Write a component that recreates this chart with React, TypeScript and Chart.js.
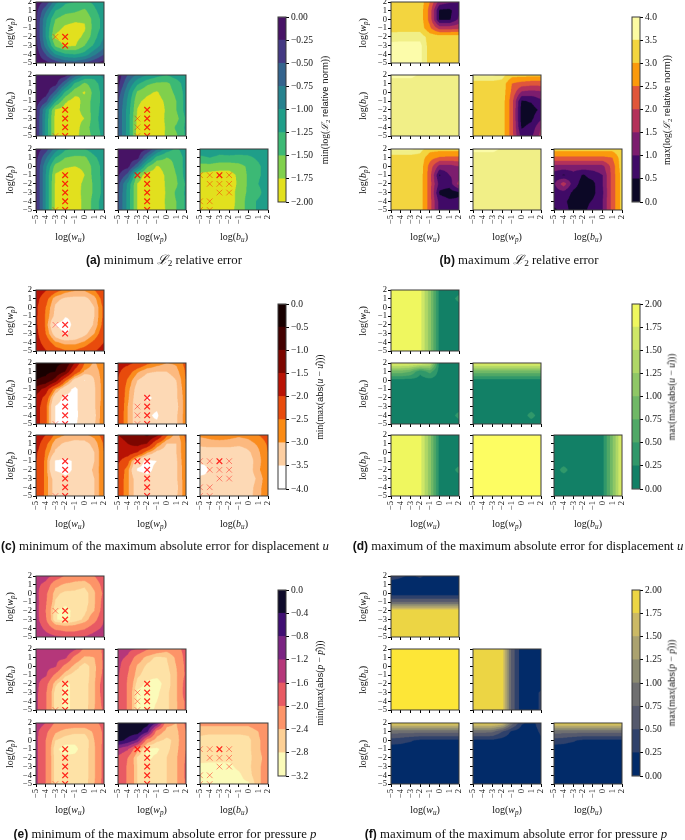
import React, { useEffect, useRef } from "react";
import { Chart, registerables } from "chart.js";
Chart.register(...registerables);

const LOG_TICKS = [-5, -4, -3, -2, -1, 0, 1, 2];
const ROW_VALUES = [2, 1, 0, -1, -2, -3, -4, -5];

// ---------- figure (a)
const A_WP_WU = [
  [-0.1, -0.3, -0.9, -1.2, -1.25, -1.3, -1.2, -1.0],
  [-0.15, -0.7, -1.25, -1.4, -1.45, -1.55, -1.3, -1.1],
  [-0.2, -0.95, -1.5, -1.65, -1.7, -1.72, -1.4, -1.15],
  [-0.2, -1.0, -1.65, -1.8, -1.85, -1.78, -1.4, -1.15],
  [-0.2, -1.0, -1.8, -1.9, -1.85, -1.7, -1.35, -1.0],
  [-0.15, -0.85, -1.55, -1.8, -1.78, -1.5, -1.2, -0.85],
  [-0.1, -0.5, -1.0, -1.2, -1.25, -1.15, -0.8, -0.5],
  [-0.1, -0.15, -0.3, -0.55, -0.6, -0.45, -0.3, -0.1],
];
const A_BU_WU = [
  [-0.1, -0.1, -0.1, -0.12, -0.6, -1.0, -1.15, -0.9],
  [-0.1, -0.1, -0.15, -0.7, -1.3, -1.55, -1.35, -1.1],
  [-0.1, -0.12, -0.6, -1.3, -1.65, -1.78, -1.4, -1.15],
  [-0.12, -0.4, -1.2, -1.7, -1.88, -1.65, -1.4, -1.15],
  [-0.2, -1.0, -1.78, -1.88, -1.85, -1.65, -1.4, -1.1],
  [-0.2, -1.05, -1.85, -1.95, -1.85, -1.75, -1.35, -1.1],
  [-0.2, -1.05, -1.85, -1.95, -1.9, -1.6, -1.4, -1.1],
  [-0.2, -1.05, -1.85, -1.95, -1.85, -1.6, -1.45, -1.15],
];
const A_BU_WP = [
  [-0.1, -0.5, -0.8, -1.0, -1.15, -1.25, -1.1, -1.0],
  [-0.15, -0.75, -1.2, -1.45, -1.55, -1.55, -1.4, -1.1],
  [-0.35, -0.95, -1.55, -1.7, -1.78, -1.6, -1.45, -1.15],
  [-0.45, -1.05, -1.7, -1.82, -1.85, -1.7, -1.5, -1.15],
  [-0.5, -1.1, -1.76, -1.9, -1.95, -1.7, -1.5, -1.15],
  [-0.5, -1.1, -1.82, -1.9, -1.9, -1.7, -1.6, -1.2],
  [-0.5, -1.1, -1.85, -1.95, -1.9, -1.72, -1.45, -1.2],
  [-0.5, -1.1, -1.85, -1.95, -1.95, -1.7, -1.55, -1.2],
];
const A_BP_WU = [
  [-0.1, -0.35, -0.85, -1.2, -1.3, -1.25, -1.1, -1.0],
  [-0.15, -0.7, -1.25, -1.5, -1.55, -1.55, -1.3, -1.1],
  [-0.2, -0.95, -1.6, -1.72, -1.75, -1.7, -1.4, -1.15],
  [-0.2, -1.0, -1.78, -1.88, -1.9, -1.75, -1.4, -1.15],
  [-0.2, -1.0, -1.8, -1.9, -1.85, -1.7, -1.45, -1.15],
  [-0.2, -1.0, -1.8, -1.9, -1.82, -1.7, -1.45, -1.15],
  [-0.2, -1.0, -1.8, -1.9, -1.85, -1.7, -1.4, -1.1],
  [-0.2, -1.0, -1.8, -1.9, -1.85, -1.7, -1.4, -1.1],
];
const A_BP_WP = [
  [-0.1, -0.1, -0.1, -0.2, -0.7, -1.1, -1.3, -1.1],
  [-0.1, -0.1, -0.15, -0.8, -1.35, -1.5, -1.45, -1.15],
  [-0.1, -0.15, -0.7, -1.45, -1.78, -1.65, -1.45, -1.15],
  [-0.2, -0.6, -1.6, -1.88, -1.9, -1.7, -1.5, -1.15],
  [-0.4, -1.05, -1.76, -1.88, -1.95, -1.7, -1.55, -1.2],
  [-0.45, -1.1, -1.76, -1.88, -1.95, -1.72, -1.45, -1.2],
  [-0.45, -1.1, -1.76, -1.88, -1.95, -1.7, -1.5, -1.2],
  [-0.45, -1.1, -1.76, -1.88, -1.95, -1.72, -1.5, -1.2],
];
const A_BP_BU = [
  [-1.1, -1.05, -1.15, -1.1, -1.15, -1.1, -1.05, -1.0],
  [-1.3, -1.25, -1.3, -1.3, -1.3, -1.3, -1.2, -1.05],
  [-1.6, -1.6, -1.65, -1.65, -1.6, -1.45, -1.3, -1.1],
  [-1.8, -1.85, -1.85, -1.85, -1.7, -1.45, -1.3, -1.1],
  [-1.85, -1.9, -1.95, -1.9, -1.7, -1.45, -1.25, -1.05],
  [-1.85, -1.9, -1.9, -1.9, -1.65, -1.45, -1.35, -1.05],
  [-1.9, -1.95, -1.9, -1.9, -1.65, -1.4, -1.2, -1.05],
  [-1.9, -1.95, -1.9, -1.85, -1.65, -1.4, -1.2, -1.05],
];

// ---------- figure (b)
const B_WP_WU = [
  [3.3, 3.3, 3.3, 3.3, 2.5, 1.3, 1.1, 1.0],
  [3.3, 3.3, 3.3, 3.3, 2.3, 0.4, 0.35, 0.9],
  [3.3, 3.3, 3.3, 3.3, 2.3, 0.4, 0.4, 1.1],
  [3.3, 3.3, 3.3, 3.3, 2.6, 1.8, 1.8, 1.9],
  [3.7, 3.75, 3.75, 3.75, 3.3, 3.3, 3.3, 3.3],
  [3.95, 3.95, 3.95, 3.95, 3.3, 3.3, 3.3, 3.3],
  [3.95, 3.95, 3.95, 3.95, 3.3, 3.3, 3.3, 3.3],
  [3.95, 3.95, 3.95, 3.95, 3.3, 3.3, 3.3, 3.3],
];
const B_BU_WU = [
  [3.95, 3.95, 3.95, 3.8, 3.7, 3.7, 3.7, 3.7],
  [3.7, 3.7, 3.7, 3.7, 3.7, 3.7, 3.7, 3.7],
  [3.7, 3.7, 3.7, 3.7, 3.7, 3.7, 3.7, 3.7],
  [3.7, 3.7, 3.7, 3.7, 3.7, 3.7, 3.7, 3.7],
  [3.7, 3.7, 3.7, 3.7, 3.7, 3.7, 3.7, 3.7],
  [3.7, 3.7, 3.7, 3.7, 3.7, 3.7, 3.7, 3.7],
  [3.7, 3.7, 3.7, 3.7, 3.7, 3.7, 3.7, 3.7],
  [3.7, 3.7, 3.7, 3.7, 3.7, 3.7, 3.7, 3.7],
];
const B_BU_WP = [
  [3.95, 3.95, 3.95, 3.7, 3.2, 3.2, 3.2, 3.2],
  [3.3, 3.3, 3.3, 3.3, 2.5, 2.3, 2.2, 2.2],
  [3.3, 3.3, 3.3, 3.3, 2.4, 1.4, 1.3, 1.4],
  [3.3, 3.3, 3.3, 3.3, 2.2, 0.45, 0.55, 0.9],
  [3.3, 3.3, 3.3, 3.3, 2.2, 0.3, 0.3, 0.6],
  [3.3, 3.3, 3.3, 3.3, 2.2, 0.3, 0.4, 0.9],
  [3.3, 3.3, 3.3, 3.3, 2.2, 0.45, 0.65, 1.5],
  [3.3, 3.3, 3.3, 3.3, 2.2, 0.8, 0.9, 1.7],
];
const B_BP_WU = [
  [3.95, 3.95, 3.95, 3.7, 3.2, 3.2, 3.2, 3.2],
  [3.3, 3.3, 3.3, 3.3, 2.7, 2.45, 2.4, 2.4],
  [3.3, 3.3, 3.3, 3.3, 2.3, 1.3, 1.3, 1.5],
  [3.3, 3.3, 3.3, 3.3, 2.2, 0.45, 1.0, 1.2],
  [3.3, 3.3, 3.3, 3.3, 2.2, 0.8, 0.7, 1.7],
  [3.3, 3.3, 3.3, 3.3, 2.2, 0.4, 0.25, 0.4],
  [3.3, 3.3, 3.3, 3.3, 2.2, 0.8, 0.6, 0.6],
  [3.3, 3.3, 3.3, 3.3, 2.2, 0.8, 0.6, 0.6],
];
const B_BP_WP = [
  [3.95, 3.95, 3.95, 3.8, 3.7, 3.7, 3.7, 3.7],
  [3.7, 3.7, 3.7, 3.7, 3.7, 3.7, 3.7, 3.7],
  [3.7, 3.7, 3.7, 3.7, 3.7, 3.7, 3.7, 3.7],
  [3.7, 3.7, 3.7, 3.7, 3.7, 3.7, 3.7, 3.7],
  [3.7, 3.7, 3.7, 3.7, 3.7, 3.7, 3.7, 3.7],
  [3.7, 3.7, 3.7, 3.7, 3.7, 3.7, 3.7, 3.7],
  [3.7, 3.7, 3.7, 3.7, 3.7, 3.7, 3.7, 3.7],
  [3.7, 3.7, 3.7, 3.7, 3.7, 3.7, 3.7, 3.7],
];
const B_BP_BU = [
  [3.2, 3.2, 3.2, 3.2, 3.2, 3.2, 3.2, 3.4],
  [2.4, 2.4, 2.4, 2.4, 2.4, 2.4, 2.5, 3.3],
  [1.3, 1.3, 1.3, 1.3, 1.3, 1.35, 2.2, 3.3],
  [0.8, 0.45, 0.8, 0.45, 0.7, 1.0, 2.2, 3.2],
  [0.9, 1.8, 0.7, 0.3, 0.35, 1.0, 2.2, 3.2],
  [0.8, 0.8, 0.4, 0.3, 0.35, 0.9, 2.2, 3.2],
  [0.7, 0.6, 0.3, 0.3, 0.55, 1.0, 2.2, 3.2],
  [0.4, 0.7, 0.3, 0.3, 0.8, 1.0, 2.2, 3.2],
];

// ---------- figure (c)
const C_WP_WU = [
  [-1.6, -1.95, -2.3, -2.6, -2.7, -2.7, -2.5, -2.1],
  [-1.8, -2.35, -2.9, -3.05, -3.1, -3.1, -2.85, -2.3],
  [-1.9, -2.5, -3.05, -3.3, -3.35, -3.3, -3.0, -2.4],
  [-1.9, -2.55, -3.1, -3.48, -3.45, -3.35, -3.0, -2.4],
  [-1.9, -2.55, -3.55, -3.65, -3.4, -3.3, -2.95, -2.35],
  [-1.85, -2.5, -3.2, -3.55, -3.35, -3.1, -2.75, -2.2],
  [-1.75, -2.25, -2.7, -2.85, -2.85, -2.7, -2.4, -2.0],
  [-1.6, -1.95, -2.3, -2.45, -2.45, -2.3, -2.05, -1.7],
];
const C_BU_WU = [
  [-0.3, -0.35, -0.4, -0.5, -1.5, -2.5, -2.8, -2.5],
  [-0.4, -0.4, -0.5, -1.0, -2.2, -2.8, -2.9, -2.6],
  [-0.5, -0.6, -1.2, -2.4, -3.2, -3.52, -3.0, -2.6],
  [-1.2, -1.7, -2.7, -3.3, -3.6, -3.25, -3.05, -2.6],
  [-1.6, -2.2, -3.3, -3.6, -3.6, -3.25, -3.05, -2.6],
  [-1.7, -2.4, -3.52, -3.65, -3.6, -3.25, -3.05, -2.55],
  [-1.7, -2.4, -3.52, -3.65, -3.6, -3.3, -3.1, -2.5],
  [-1.7, -2.4, -3.52, -3.65, -3.55, -3.3, -3.05, -2.5],
];
const C_BU_WP = [
  [-1.8, -1.85, -2.1, -2.4, -2.6, -2.75, -2.7, -2.4],
  [-1.9, -2.3, -2.7, -2.95, -3.0, -3.0, -2.85, -2.45],
  [-2.05, -2.55, -3.0, -3.2, -3.3, -3.2, -3.0, -2.5],
  [-2.1, -2.65, -3.15, -3.35, -3.4, -3.25, -3.05, -2.55],
  [-2.1, -2.7, -3.2, -3.55, -3.45, -3.3, -3.05, -2.6],
  [-2.1, -2.75, -3.25, -3.4, -3.45, -3.3, -3.1, -2.6],
  [-2.15, -2.75, -3.25, -3.45, -3.55, -3.25, -3.05, -2.6],
  [-2.15, -2.75, -3.25, -3.45, -3.45, -3.3, -3.05, -2.6],
];
const C_BP_WU = [
  [-1.5, -2.0, -2.6, -2.75, -2.85, -2.8, -2.65, -2.35],
  [-1.7, -2.4, -2.9, -3.05, -3.1, -3.1, -2.9, -2.45],
  [-1.9, -2.55, -3.05, -3.2, -3.3, -3.25, -3.0, -2.5],
  [-2.0, -2.6, -3.55, -3.6, -3.45, -3.3, -3.0, -2.5],
  [-2.0, -2.6, -3.55, -3.6, -3.45, -3.15, -2.95, -2.5],
  [-2.0, -2.6, -3.2, -3.45, -3.4, -3.2, -3.0, -2.5],
  [-2.0, -2.6, -3.2, -3.4, -3.4, -3.2, -3.0, -2.5],
  [-2.0, -2.6, -3.2, -3.4, -3.45, -3.2, -3.0, -2.5],
];
const C_BP_WP = [
  [-1.5, -1.4, -1.2, -0.9, -1.3, -2.4, -2.9, -2.4],
  [-1.6, -1.5, -1.3, -1.5, -2.5, -3.0, -3.0, -2.5],
  [-1.7, -1.7, -2.0, -2.7, -3.1, -3.2, -3.0, -2.5],
  [-1.9, -2.35, -3.3, -3.6, -3.5, -3.3, -3.05, -2.5],
  [-2.2, -2.65, -3.55, -3.6, -3.4, -3.3, -3.05, -2.55],
  [-2.2, -2.7, -3.2, -3.4, -3.45, -3.3, -3.05, -2.55],
  [-2.2, -2.7, -3.2, -3.4, -3.45, -3.3, -3.1, -2.55],
  [-2.2, -2.7, -3.2, -3.4, -3.45, -3.3, -3.05, -2.55],
];
const C_BP_BU = [
  [-2.7, -2.65, -2.6, -2.65, -2.7, -2.65, -2.5, -2.35],
  [-2.9, -2.85, -2.85, -2.85, -2.9, -2.85, -2.7, -2.45],
  [-3.2, -3.2, -3.2, -3.2, -3.25, -3.05, -2.8, -2.5],
  [-3.4, -3.45, -3.4, -3.45, -3.4, -3.15, -2.85, -2.5],
  [-3.7, -3.45, -3.45, -3.45, -3.4, -3.15, -2.8, -2.5],
  [-3.4, -3.45, -3.4, -3.4, -3.35, -3.15, -2.95, -2.5],
  [-3.4, -3.45, -3.4, -3.35, -3.3, -3.15, -2.85, -2.55],
  [-3.45, -3.45, -3.4, -3.35, -3.3, -3.1, -2.85, -2.5],
];

// ---------- figure (d)
const D_WP_WU = [
  [1.85, 1.85, 1.85, 1.85, 1.1, 0.15, 0.15, 0.15],
  [1.85, 1.85, 1.85, 1.85, 1.1, 0.15, 0.15, 0.32],
  [1.85, 1.85, 1.85, 1.85, 1.1, 0.15, 0.15, 0.15],
  [1.85, 1.85, 1.85, 1.85, 1.1, 0.15, 0.15, 0.15],
  [1.85, 1.85, 1.85, 1.85, 1.1, 0.15, 0.15, 0.15],
  [1.85, 1.85, 1.85, 1.85, 1.1, 0.15, 0.15, 0.15],
  [1.85, 1.85, 1.85, 1.85, 1.1, 0.15, 0.15, 0.15],
  [1.85, 1.85, 1.85, 1.85, 1.1, 0.15, 0.15, 0.15],
];
const D_BU_WU = [
  [1.85, 1.85, 1.85, 1.85, 1.6, 0.15, 0.15, 0.15],
  [0.9, 0.9, 0.75, 0.3, 0.6, 0.15, 0.15, 0.15],
  [0.15, 0.15, 0.15, 0.15, 0.15, 0.15, 0.15, 0.15],
  [0.15, 0.15, 0.15, 0.15, 0.15, 0.15, 0.15, 0.15],
  [0.15, 0.15, 0.15, 0.15, 0.15, 0.15, 0.15, 0.15],
  [0.15, 0.15, 0.15, 0.15, 0.15, 0.15, 0.15, 0.15],
  [0.15, 0.15, 0.15, 0.15, 0.15, 0.15, 0.15, 0.32],
  [0.15, 0.15, 0.15, 0.15, 0.15, 0.15, 0.15, 0.15],
];
const D_BU_WP = [
  [1.85, 1.85, 1.85, 1.85, 1.85, 1.85, 1.85, 1.85],
  [0.9, 0.9, 0.9, 0.9, 0.9, 0.9, 0.9, 0.9],
  [0.15, 0.15, 0.15, 0.15, 0.15, 0.15, 0.15, 0.15],
  [0.15, 0.15, 0.15, 0.15, 0.15, 0.15, 0.15, 0.15],
  [0.15, 0.15, 0.15, 0.15, 0.15, 0.15, 0.15, 0.15],
  [0.15, 0.15, 0.15, 0.15, 0.15, 0.15, 0.15, 0.15],
  [0.15, 0.15, 0.15, 0.15, 0.15, 0.15, 0.32, 0.15],
  [0.15, 0.15, 0.15, 0.15, 0.15, 0.15, 0.15, 0.15],
];
const D_BP_WU = [
  [1.85, 1.85, 1.85, 1.85, 1.1, 0.15, 0.15, 0.15],
  [1.85, 1.85, 1.85, 1.85, 1.1, 0.15, 0.15, 0.15],
  [1.85, 1.85, 1.85, 1.85, 1.1, 0.15, 0.15, 0.15],
  [1.85, 1.85, 1.85, 1.85, 1.1, 0.15, 0.15, 0.15],
  [1.85, 1.85, 1.85, 1.85, 1.1, 0.15, 0.15, 0.32],
  [1.85, 1.85, 1.85, 1.85, 1.1, 0.15, 0.15, 0.15],
  [1.85, 1.85, 1.85, 1.85, 1.1, 0.15, 0.15, 0.15],
  [1.85, 1.85, 1.85, 1.85, 1.1, 0.15, 0.15, 0.15],
];
const D_BP_WP = [
  [1.97, 1.97, 1.97, 1.97, 1.97, 1.97, 1.97, 1.97],
  [1.97, 1.97, 1.97, 1.97, 1.97, 1.97, 1.97, 1.97],
  [1.97, 1.97, 1.97, 1.97, 1.97, 1.97, 1.97, 1.97],
  [1.97, 1.97, 1.97, 1.97, 1.97, 1.97, 1.97, 1.97],
  [1.97, 1.97, 1.97, 1.97, 1.97, 1.97, 1.97, 1.97],
  [1.97, 1.97, 1.97, 1.97, 1.97, 1.97, 1.97, 1.97],
  [1.97, 1.97, 1.97, 1.97, 1.97, 1.97, 1.97, 1.97],
  [1.97, 1.97, 1.97, 1.97, 1.97, 1.97, 1.97, 1.97],
];
const D_BP_BU = [
  [0.15, 0.15, 0.15, 0.15, 0.15, 0.15, 0.95, 1.85],
  [0.15, 0.15, 0.15, 0.15, 0.15, 0.15, 0.95, 1.85],
  [0.15, 0.15, 0.15, 0.15, 0.15, 0.15, 0.95, 1.85],
  [0.15, 0.15, 0.15, 0.15, 0.15, 0.15, 0.95, 1.85],
  [0.15, 0.32, 0.15, 0.15, 0.15, 0.15, 0.95, 1.85],
  [0.15, 0.15, 0.15, 0.15, 0.15, 0.15, 0.95, 1.85],
  [0.15, 0.15, 0.15, 0.15, 0.15, 0.15, 0.95, 1.85],
  [0.15, 0.15, 0.15, 0.15, 0.15, 0.15, 0.95, 1.85],
];

// ---------- figure (e)
const E_WP_WU = [
  [-1.4, -1.45, -1.7, -2.05, -2.2, -2.2, -2.0, -1.65],
  [-1.5, -1.7, -2.3, -2.45, -2.5, -2.55, -2.3, -1.8],
  [-1.5, -1.9, -2.55, -2.65, -2.65, -2.7, -2.45, -1.9],
  [-1.45, -1.95, -2.62, -2.72, -2.72, -2.7, -2.45, -1.8],
  [-1.45, -2.0, -2.78, -2.9, -2.72, -2.65, -2.4, -1.75],
  [-1.45, -1.95, -2.78, -2.88, -2.72, -2.55, -2.15, -1.6],
  [-1.35, -1.7, -2.1, -2.2, -2.2, -2.05, -1.75, -1.5],
  [-1.3, -1.4, -1.5, -1.6, -1.6, -1.55, -1.4, -1.25],
];
const E_BU_WU = [
  [-1.45, -1.45, -1.45, -1.25, -1.5, -2.1, -2.3, -1.9],
  [-1.45, -1.45, -1.5, -1.5, -2.15, -2.45, -2.4, -1.9],
  [-1.45, -1.5, -1.55, -2.15, -2.5, -2.7, -2.5, -1.9],
  [-1.45, -1.55, -2.1, -2.55, -2.7, -2.7, -2.5, -1.85],
  [-1.5, -1.85, -2.55, -2.85, -2.75, -2.7, -2.45, -1.7],
  [-1.5, -1.95, -2.7, -2.85, -2.75, -2.7, -2.45, -1.7],
  [-1.5, -1.95, -2.7, -2.85, -2.75, -2.7, -2.45, -1.8],
  [-1.5, -1.95, -2.7, -2.85, -2.75, -2.7, -2.4, -1.9],
];
const E_BU_WP = [
  [-1.5, -1.5, -1.6, -1.95, -2.15, -2.3, -2.2, -1.8],
  [-1.5, -1.65, -2.2, -2.5, -2.65, -2.6, -2.35, -1.85],
  [-1.5, -1.9, -2.45, -2.65, -2.7, -2.65, -2.4, -1.9],
  [-1.55, -2.0, -2.55, -2.72, -2.75, -2.7, -2.45, -1.9],
  [-1.6, -2.05, -2.7, -2.85, -2.9, -2.7, -2.45, -1.8],
  [-1.6, -2.05, -2.85, -2.9, -2.85, -2.65, -2.45, -1.75],
  [-1.6, -2.05, -2.85, -2.9, -2.8, -2.65, -2.45, -1.9],
  [-1.6, -2.05, -2.85, -2.9, -2.75, -2.65, -2.45, -1.9],
];
const E_BP_WU = [
  [-1.35, -1.6, -2.05, -2.15, -2.2, -2.2, -2.1, -1.85],
  [-1.5, -1.9, -2.35, -2.5, -2.55, -2.55, -2.35, -1.9],
  [-1.5, -2.0, -2.6, -2.7, -2.75, -2.75, -2.4, -1.9],
  [-1.5, -2.0, -2.75, -2.9, -2.85, -2.7, -2.45, -1.85],
  [-1.5, -2.0, -2.7, -2.75, -2.75, -2.7, -2.45, -1.85],
  [-1.5, -2.0, -2.7, -2.75, -2.7, -2.7, -2.45, -1.85],
  [-1.5, -2.0, -2.7, -2.75, -2.75, -2.7, -2.45, -1.85],
  [-1.5, -2.0, -2.7, -2.8, -2.8, -2.7, -2.4, -1.85],
];
const E_BP_WP = [
  [-0.2, -0.2, -0.2, -0.2, -0.8, -2.3, -2.4, -1.9],
  [-0.2, -0.2, -0.2, -0.7, -2.2, -2.5, -2.5, -2.0],
  [-0.25, -0.5, -0.9, -2.2, -2.55, -2.65, -2.55, -2.0],
  [-1.3, -1.55, -2.3, -2.85, -2.85, -2.65, -2.5, -2.0],
  [-1.7, -2.0, -2.65, -2.85, -2.75, -2.6, -2.45, -1.95],
  [-1.7, -2.05, -2.6, -2.7, -2.7, -2.6, -2.45, -1.9],
  [-1.7, -2.05, -2.6, -2.7, -2.7, -2.6, -2.45, -1.9],
  [-1.7, -2.05, -2.6, -2.7, -2.7, -2.6, -2.45, -1.95],
];
const E_BP_BU = [
  [-2.3, -2.3, -2.3, -2.3, -2.3, -2.3, -2.2, -2.0],
  [-2.55, -2.55, -2.55, -2.55, -2.55, -2.55, -2.4, -2.15],
  [-2.65, -2.7, -2.7, -2.7, -2.7, -2.65, -2.45, -2.2],
  [-2.72, -2.75, -2.75, -2.75, -2.75, -2.65, -2.45, -2.2],
  [-2.72, -2.75, -2.75, -2.75, -2.72, -2.65, -2.5, -2.25],
  [-2.85, -2.85, -2.85, -2.85, -2.75, -2.65, -2.45, -2.25],
  [-2.85, -2.88, -2.88, -2.88, -2.85, -2.68, -2.45, -2.25],
  [-2.88, -2.88, -2.88, -2.88, -2.85, -2.85, -2.45, -2.25],
];

// ---------- figure (f)
const F_WP_WU = [
  [0.4, 0.3, 0.2, 0.3, 0.15, 0.15, 0.15, 0.15],
  [0.1, 0.1, 0.1, 0.1, 0.1, 0.1, 0.1, 0.1],
  [0.1, 0.1, 0.1, 0.1, 0.1, 0.1, 0.1, 0.1],
  [0.75, 0.75, 0.75, 0.75, 0.75, 0.75, 0.75, 0.75],
  [1.95, 1.95, 1.95, 1.95, 1.95, 1.95, 1.95, 1.95],
  [1.88, 1.88, 1.88, 1.88, 1.88, 1.88, 1.88, 1.88],
  [1.88, 1.88, 1.88, 1.88, 1.88, 1.88, 1.88, 1.88],
  [1.88, 1.88, 1.88, 1.88, 1.88, 1.88, 1.88, 1.88],
];
const F_BU_WU = [
  [1.98, 1.98, 1.98, 1.98, 1.98, 1.98, 1.98, 1.98],
  [1.98, 1.98, 1.98, 1.98, 1.98, 1.98, 1.98, 1.98],
  [1.98, 1.98, 1.98, 1.98, 1.98, 1.98, 1.98, 1.98],
  [1.98, 1.98, 1.98, 1.98, 1.98, 1.98, 1.98, 1.98],
  [1.98, 1.98, 1.98, 1.98, 1.98, 1.98, 1.98, 1.98],
  [1.98, 1.98, 1.98, 1.98, 1.98, 1.98, 1.98, 1.98],
  [1.98, 1.98, 1.98, 1.98, 1.98, 1.98, 1.98, 1.98],
  [1.98, 1.98, 1.98, 1.98, 1.98, 1.98, 1.98, 1.98],
];
const F_BU_WP = [
  [1.9, 1.9, 1.9, 1.9, 0.65, 0.1, 0.1, 0.1],
  [1.9, 1.9, 1.9, 1.9, 0.65, 0.1, 0.1, 0.1],
  [1.9, 1.9, 1.9, 1.9, 0.65, 0.1, 0.1, 0.1],
  [1.9, 1.9, 1.9, 1.9, 0.65, 0.1, 0.1, 0.1],
  [1.9, 1.9, 1.9, 1.9, 0.65, 0.1, 0.1, 0.1],
  [1.9, 1.9, 1.9, 1.9, 0.65, 0.1, 0.1, 0.3],
  [1.9, 1.9, 1.9, 1.9, 0.65, 0.1, 0.1, 0.3],
  [1.9, 1.9, 1.9, 1.9, 0.65, 0.1, 0.1, 0.3],
];
const F_BP_WU = [
  [1.9, 1.9, 1.9, 1.9, 1.9, 1.9, 1.9, 1.9],
  [0.85, 0.85, 0.85, 0.85, 0.85, 0.85, 0.85, 0.85],
  [0.4, 0.35, 0.28, 0.2, 0.2, 0.2, 0.2, 0.2],
  [0.1, 0.1, 0.1, 0.1, 0.1, 0.1, 0.1, 0.1],
  [0.1, 0.1, 0.1, 0.1, 0.1, 0.1, 0.1, 0.1],
  [0.1, 0.1, 0.1, 0.1, 0.1, 0.1, 0.1, 0.1],
  [0.1, 0.1, 0.1, 0.1, 0.1, 0.1, 0.1, 0.1],
  [0.1, 0.1, 0.1, 0.1, 0.1, 0.1, 0.1, 0.1],
];
const F_BP_WP = [
  [1.9, 1.9, 1.9, 1.8, 0.9, 0.3, 0.15, 0.4],
  [0.85, 0.85, 0.8, 0.5, 0.2, 0.1, 0.1, 0.3],
  [0.2, 0.2, 0.2, 0.15, 0.1, 0.1, 0.1, 0.2],
  [0.1, 0.1, 0.1, 0.1, 0.1, 0.1, 0.1, 0.1],
  [0.1, 0.1, 0.1, 0.1, 0.1, 0.1, 0.1, 0.1],
  [0.1, 0.1, 0.1, 0.1, 0.1, 0.1, 0.1, 0.1],
  [0.1, 0.1, 0.1, 0.1, 0.1, 0.1, 0.1, 0.1],
  [0.1, 0.1, 0.1, 0.1, 0.1, 0.1, 0.1, 0.1],
];
const F_BP_BU = [
  [1.9, 1.9, 1.9, 1.9, 1.9, 1.9, 1.9, 1.9],
  [0.85, 0.85, 0.85, 0.85, 0.85, 0.85, 0.85, 0.85],
  [0.4, 0.35, 0.28, 0.2, 0.2, 0.2, 0.2, 0.2],
  [0.1, 0.1, 0.1, 0.1, 0.1, 0.1, 0.1, 0.1],
  [0.1, 0.1, 0.1, 0.1, 0.1, 0.1, 0.1, 0.1],
  [0.1, 0.1, 0.1, 0.1, 0.1, 0.1, 0.1, 0.1],
  [0.1, 0.1, 0.1, 0.1, 0.1, 0.1, 0.1, 0.1],
  [0.1, 0.1, 0.1, 0.1, 0.1, 0.1, 0.1, 0.1],
];

// ---------- best-run crosses, [x, y] per panel
const STRONG_WP_WU = [[-2, -2], [-2, -3]];
const WEAK_WP_WU = [[-3, -2]];
const STRONG_BU_WU = [[-2, -2], [-2, -3], [-2, -4], [-2, -5]];
const WEAK_BU_WU = [[-3, -5]];
const STRONG_BU_WP = [[-2, -2], [-2, -3], [-2, -4], [-2, -5]];
const WEAK_BU_WP = [[-3, -3], [-3, -4], [-3, -5]];
const STRONG_BP_WU = [[-2, -1], [-2, -2], [-2, -3], [-2, -4], [-2, -5]];
const WEAK_BP_WU = [[-3, -5]];
const STRONG_BP_WP = [[-3, -1], [-2, -1], [-2, -2], [-2, -3], [-2, -4], [-2, -5]];
const WEAK_BP_WP: number[][] = [];
const STRONG_BP_BU = [[-3, -1]];
const WEAK_BP_BU = [[-5, -1], [-4, -1], [-2, -1], [-4, -2], [-3, -2], [-2, -2], [-3, -3], [-2, -3], [-5, -4], [-4, -4], [-5, -5], [-4, -5]];

// ---------- colour levels (panels carry a couple of intermediate shades)
const A_LEVELS = [-2, -1.75, -1.5, -1.25, -1, -0.75, -0.5, -0.25, 0];
const A_COLORS = ["#e2e01e", "#80d04c", "#3cb975", "#1f9e89", "#26828e", "#33638d", "#443983", "#471365"];
const A_BAR_COLORS = ["#e2e01e", "#80d04c", "#3cb975", "#1f9e89", "#26828e", "#33638d", "#443983", "#471365"];
const B_LEVELS = [0, 0.5, 1, 1.5, 2, 2.5, 3, 3.5, 3.85, 4];
const B_COLORS = ["#0c0826", "#400a67", "#7c1d6e", "#b3315a", "#e0563a", "#fb9a0c", "#f3d53f", "#f1ef87", "#fcfcaa"];
const B_BAR_LEVELS = [0, 0.5, 1, 1.5, 2, 2.5, 3, 3.5, 4];
const B_BAR_COLORS = ["#0c0826", "#400a67", "#7c1d6e", "#b3315a", "#e0563a", "#fb9a0c", "#f3d53f", "#fcfba3"];
const C_LEVELS = [-4, -3.5, -3, -2.75, -2.5, -2, -1.5, -1, -0.5, 0];
const C_COLORS = ["#ffffff", "#fdd9b5", "#fcb97f", "#fa8c1e", "#e84b0c", "#b81204", "#7c0600", "#430000", "#180000"];
const C_BAR_LEVELS = [-4, -3.5, -3, -2.5, -2, -1.5, -1, -0.5, 0];
const C_BAR_COLORS = ["#ffffff", "#fdcfa2", "#fb8b14", "#e84b0c", "#b81204", "#7c0600", "#430000", "#180000"];
const D_LEVELS = [0, 0.25, 0.5, 0.75, 1, 1.25, 1.5, 1.75, 1.92, 2];
const D_COLORS = ["#128066", "#30986a", "#50a866", "#70b866", "#8fc766", "#afd766", "#cfe766", "#eff75f", "#fdfd62"];
const D_BAR_LEVELS = [0, 0.25, 0.5, 0.75, 1, 1.25, 1.5, 1.75, 2];
const D_BAR_COLORS = ["#128066", "#30986a", "#50a866", "#70b866", "#8fc766", "#afd766", "#cfe766", "#eff75f"];
const E_LEVELS = [-3.2, -2.8, -2.6, -2.4, -2, -1.6, -1.2, -0.8, -0.4, 0];
const E_COLORS = ["#fbfbb9", "#fee2a6", "#fdc98c", "#fd9468", "#e85a63", "#b5377a", "#7a2482", "#3f0f72", "#0f0b2b"];
const E_BAR_LEVELS = [-3.2, -2.8, -2.4, -2, -1.6, -1.2, -0.8, -0.4, 0];
const E_BAR_COLORS = ["#fbfbb9", "#fdd095", "#fd9468", "#e85a63", "#b5377a", "#7a2482", "#3f0f72", "#0f0b2b"];
const F_LEVELS = [0, 0.25, 0.5, 0.75, 1, 1.25, 1.5, 1.75, 1.96, 2];
const F_COLORS = ["#022b69", "#2f416b", "#55596d", "#6f6f70", "#8c8b72", "#aba26f", "#cbb965", "#ecd544", "#fde637"];
const F_BAR_LEVELS = [0, 0.25, 0.5, 0.75, 1, 1.25, 1.5, 1.75, 2];
const F_BAR_COLORS = ["#022b69", "#2f416b", "#55596d", "#6f6f70", "#8c8b72", "#aba26f", "#cbb965", "#ecd544"];

const A_BAR_TICKS = [0, -0.25, -0.5, -0.75, -1, -1.25, -1.5, -1.75, -2];
const B_BAR_TICKS = [0, 0.5, 1, 1.5, 2, 2.5, 3, 3.5, 4];
const C_BAR_TICKS = [0, -0.5, -1, -1.5, -2, -2.5, -3, -3.5, -4];
const D_BAR_TICKS = [0, 0.25, 0.5, 0.75, 1, 1.25, 1.5, 1.75, 2];
const E_BAR_TICKS = [0, -0.4, -0.8, -1.2, -1.6, -2, -2.4, -2.8, -3.2];
const F_BAR_TICKS = [0, 0.25, 0.5, 0.75, 1, 1.25, 1.5, 1.75, 2];

// ---------- layout
const SERIF = '"Liberation Serif", serif';
const SANS = '"Liberation Sans", sans-serif';
const TICK_FONT = { family: "Liberation Serif", size: 8.5 };
const LEFT_COLS = [36, 118, 200];
const RIGHT_COLS = [391, 473, 554];
const PW = 68;
const PH = 61;
const SS = 3;

function hexRgb(h: string) {
  return [parseInt(h.slice(1, 3), 16), parseInt(h.slice(3, 5), 16), parseInt(h.slice(5, 7), 16)];
}
const minus = (s: string) => s.replace("-", "\u2212");

function contourPlugin(levels: number[], colors: string[]) {
  const rgb = colors.map(hexRgb);
  return {
    id: "contour",
    beforeDatasetsDraw(chart: any) {
      const { ctx, chartArea: a, scales } = chart;
      const cells = chart.data.datasets[0].data as { x: number; y: number; v: number }[];
      const lookup = new Map<string, number>();
      cells.forEach((c) => lookup.set(c.x + "," + c.y, c.v));
      const w = Math.round((a.right - a.left) * SS);
      const h = Math.round((a.bottom - a.top) * SS);
      const off = document.createElement("canvas");
      off.width = w;
      off.height = h;
      const oc = off.getContext("2d")!;
      const img = oc.createImageData(w, h);
      for (let j = 0; j < h; j++) {
        const yv = scales.y.getValueForPixel(a.top + (j + 0.5) / SS);
        const y0 = Math.max(-5, Math.min(1, Math.floor(yv)));
        const ty = yv - y0;
        for (let i = 0; i < w; i++) {
          const xv = scales.x.getValueForPixel(a.left + (i + 0.5) / SS);
          const x0 = Math.max(-5, Math.min(1, Math.floor(xv)));
          const tx = xv - x0;
          const v =
            (1 - tx) * (1 - ty) * lookup.get(x0 + "," + y0)! +
            tx * (1 - ty) * lookup.get(x0 + 1 + "," + y0)! +
            (1 - tx) * ty * lookup.get(x0 + "," + (y0 + 1))! +
            tx * ty * lookup.get(x0 + 1 + "," + (y0 + 1))!;
          let b = 0;
          while (b < rgb.length - 1 && v >= levels[b + 1]) b++;
          const p = (j * w + i) * 4;
          img.data[p] = rgb[b][0];
          img.data[p + 1] = rgb[b][1];
          img.data[p + 2] = rgb[b][2];
          img.data[p + 3] = 255;
        }
      }
      oc.putImageData(img, 0, 0);
      ctx.save();
      ctx.imageSmoothingEnabled = true;
      ctx.imageSmoothingQuality = "high";
      ctx.drawImage(off, a.left, a.top, a.right - a.left, a.bottom - a.top);
      ctx.restore();
    },
  };
}

const framePlugin = {
  id: "frame",
  afterDraw(chart: any) {
    const { ctx, chartArea: a } = chart;
    ctx.save();
    ctx.strokeStyle = "#3a3a3a";
    ctx.lineWidth = 1;
    ctx.strokeRect(a.left, a.top, a.right - a.left, a.bottom - a.top);
    ctx.restore();
  },
};

type PanelProps = {
  left: number;
  top: number;
  grid: number[][];
  strong: number[][];
  weak: number[][];
  levels: number[];
  colors: string[];
  xLabels: boolean;
  yLabels: boolean;
};

function Panel({ left, top, grid, strong, weak, levels, colors, xLabels, yLabels }: PanelProps) {
  const ref = useRef<HTMLCanvasElement>(null);
  const ML = yLabels ? 26 : 6;
  const MB = xLabels ? 30 : 6;
  const MT = 6;
  const MR = 6;
  useEffect(() => {
    const cells: { x: number; y: number; v: number }[] = [];
    ROW_VALUES.forEach((yv, r) => LOG_TICKS.forEach((xv, c) => cells.push({ x: xv, y: yv, v: grid[r][c] })));
    const toXY = (list: number[][]) => list.map((p) => ({ x: p[0], y: p[1] }));
    const chart = new Chart(ref.current!, {
      type: "scatter",
      data: {
        datasets: [
          { label: "error", data: cells, pointRadius: 0 },
          { label: "best", data: toXY(strong), pointStyle: "crossRot", pointRadius: 4, borderColor: "rgba(255,0,0,0.85)", backgroundColor: "rgba(255,0,0,0.85)", borderWidth: 1.2, clip: 0 },
          { label: "other", data: toXY(weak), pointStyle: "crossRot", pointRadius: 4, borderColor: "rgba(255,0,0,0.42)", backgroundColor: "rgba(255,0,0,0.42)", borderWidth: 1, clip: 0 },
        ] as any,
      },
      options: {
        responsive: false,
        animation: false,
        events: [],
        layout: { padding: { top: MT, right: MR, left: 0, bottom: 0 } },
        plugins: { legend: { display: false }, tooltip: { enabled: false } },
        scales: {
          x: {
            type: "linear",
            min: -5,
            max: 2,
            afterFit(s: any) {
              s.height = MB;
              s.paddingLeft = s.paddingRight = s.paddingTop = s.paddingBottom = 0;
            },
            border: { display: false },
            grid: { drawOnChartArea: false, drawTicks: true, tickLength: 3, tickColor: "#000" },
            ticks: {
              display: xLabels,
              stepSize: 1,
              autoSkip: false,
              minRotation: 90,
              maxRotation: 90,
              padding: 2,
              color: "#111",
              font: TICK_FONT,
              callback: (v: any) => minus(String(v)),
            },
          },
          y: {
            type: "linear",
            min: -5,
            max: 2,
            afterFit(s: any) {
              s.width = ML;
              s.paddingLeft = s.paddingRight = s.paddingTop = s.paddingBottom = 0;
            },
            border: { display: false },
            grid: { drawOnChartArea: false, drawTicks: true, tickLength: 3, tickColor: "#000" },
            ticks: {
              display: yLabels,
              stepSize: 1,
              autoSkip: false,
              padding: 1,
              color: "#111",
              font: TICK_FONT,
              callback: (v: any) => minus(String(v)),
            },
          },
        },
      } as any,
      plugins: [contourPlugin(levels, colors), framePlugin] as any,
    });
    return () => chart.destroy();
  }, []);
  return (
    <canvas
      ref={ref}
      width={PW + ML + MR}
      height={PH + MT + MB}
      style={{ position: "absolute", left: left - ML, top: top - MT }}
    />
  );
}

function ColorBar({ left, top, height, levels, colors, ticks, digits }: { left: number; top: number; height: number; levels: number[]; colors: string[]; ticks: number[]; digits: number }) {
  const ref = useRef<HTMLCanvasElement>(null);
  useEffect(() => {
    const chart = new Chart(ref.current!, {
      type: "bar",
      data: {
        labels: ["colour"],
        datasets: colors.map((c, i) => ({
          label: String(levels[i]),
          data: [[levels[i], levels[i + 1]]],
          backgroundColor: c,
          borderWidth: 0,
          grouped: false,
          barPercentage: 1,
          categoryPercentage: 1,
        })) as any,
      },
      options: {
        responsive: false,
        animation: false,
        events: [],
        layout: { padding: { top: 6, bottom: 6, left: 2, right: 0 } },
        plugins: { legend: { display: false }, tooltip: { enabled: false } },
        scales: {
          x: { type: "category", display: false },
          y: {
            type: "linear",
            position: "right",
            min: levels[0],
            max: levels[levels.length - 1],
            afterBuildTicks(s: any) {
              s.ticks = ticks.map((v) => ({ value: v }));
            },
            afterFit(s: any) {
              s.width = 36;
              s.paddingLeft = s.paddingRight = s.paddingTop = s.paddingBottom = 0;
            },
            border: { display: false },
            grid: { drawOnChartArea: false, drawTicks: true, tickLength: 3, tickColor: "#000" },
            ticks: {
              autoSkip: false,
              padding: 2,
              color: "#111",
              font: { family: "Liberation Serif", size: 9.5 },
              callback: (v: any) => minus(Number(v).toFixed(digits)),
            },
          },
        },
      } as any,
      plugins: [framePlugin] as any,
    });
    return () => chart.destroy();
  }, []);
  return (
    <canvas
      ref={ref}
      width={46}
      height={height + 12}
      style={{ position: "absolute", left: left - 2, top: top - 6 }}
    />
  );
}

const Sub = ({ children }: any) => (
  <sub style={{ fontSize: "0.72em", lineHeight: 0, verticalAlign: "-0.3em" }}>{children}</sub>
);
const sym = (base: string, s: string) => (
  <>
    log(<i>{base}</i>
    <Sub>
      <i>{s}</i>
    </Sub>
    )
  </>
);

function Txt({ x, y, rot, size, children }: any) {
  return (
    <div
      style={{
        position: "absolute",
        left: x,
        top: y,
        transform: `translate(-50%,-50%)${rot ? " rotate(-90deg)" : ""}`,
        whiteSpace: "nowrap",
        fontFamily: SERIF,
        fontSize: size,
        lineHeight: 1,
        color: "#111",
      }}
    >
      {children}
    </div>
  );
}

const sf = (s: string) => <span style={{ fontFamily: SANS }}>{s}</span>;

const L2 = (
  <>
    <i>ℒ</i>
    <Sub>2</Sub>
  </>
);

const FIGS = [
  {
    cols: LEFT_COLS, rows: [2, 75, 149], grids: [A_WP_WU, A_BU_WU, A_BU_WP, A_BP_WU, A_BP_WP, A_BP_BU],
    levels: A_LEVELS, colors: A_COLORS, barLevels: A_LEVELS, barColors: A_BAR_COLORS, barTicks: A_BAR_TICKS, digits: 2,
    barX: 278, barY: 17, barH: 185, crosses: true, yLabelX: 9.5, xLabelY: 237,
    cbX: 325, cbY: 110, cbLabel: <>min(log({L2} {sf("relative norm")}))</>,
    capX: 164, capY: 260, capTag: "(a)", capText: <> minimum {<i>ℒ</i>}<Sub>2</Sub> relative error</>,
  },
  {
    cols: RIGHT_COLS, rows: [2, 75, 149], grids: [B_WP_WU, B_BU_WU, B_BU_WP, B_BP_WU, B_BP_WP, B_BP_BU],
    levels: B_LEVELS, colors: B_COLORS, barLevels: B_BAR_LEVELS, barColors: B_BAR_COLORS, barTicks: B_BAR_TICKS, digits: 1,
    barX: 632, barY: 17, barH: 185, crosses: false, yLabelX: 363, xLabelY: 237,
    cbX: 667, cbY: 110, cbLabel: <>max(log({L2} {sf("relative norm")}))</>,
    capX: 519, capY: 260, capTag: "(b)", capText: <> maximum {<i>ℒ</i>}<Sub>2</Sub> relative error</>,
  },
  {
    cols: LEFT_COLS, rows: [290, 363, 435], grids: [C_WP_WU, C_BU_WU, C_BU_WP, C_BP_WU, C_BP_WP, C_BP_BU],
    levels: C_LEVELS, colors: C_COLORS, barLevels: C_BAR_LEVELS, barColors: C_BAR_COLORS, barTicks: C_BAR_TICKS, digits: 1,
    barX: 278, barY: 304, barH: 185, crosses: true, yLabelX: 9.5, xLabelY: 524,
    cbX: 320, cbY: 397, cbLabel: <>min(max({sf("abs")}(<i>u</i> − <i>u</i>&#770;)))</>,
    capX: 165, capY: 546, capTag: "(c)", capText: <> minimum of the maximum absolute error for displacement <i>u</i></>,
  },
  {
    cols: RIGHT_COLS, rows: [290, 363, 435], grids: [D_WP_WU, D_BU_WU, D_BU_WP, D_BP_WU, D_BP_WP, D_BP_BU],
    levels: D_LEVELS, colors: D_COLORS, barLevels: D_BAR_LEVELS, barColors: D_BAR_COLORS, barTicks: D_BAR_TICKS, digits: 2,
    barX: 632, barY: 304, barH: 185, crosses: false, yLabelX: 363, xLabelY: 524,
    cbX: 672, cbY: 397, cbLabel: <>max(max({sf("abs")}(<i>u</i> − <i>u</i>&#770;)))</>,
    capX: 518, capY: 546, capTag: "(d)", capText: <> maximum of the maximum absolute error for displacement <i>u</i></>,
  },
  {
    cols: LEFT_COLS, rows: [576, 649, 723], grids: [E_WP_WU, E_BU_WU, E_BU_WP, E_BP_WU, E_BP_WP, E_BP_BU],
    levels: E_LEVELS, colors: E_COLORS, barLevels: E_BAR_LEVELS, barColors: E_BAR_COLORS, barTicks: E_BAR_TICKS, digits: 1,
    barX: 278, barY: 590, barH: 186, crosses: true, yLabelX: 9.5, xLabelY: 810,
    cbX: 320, cbY: 683, cbLabel: <>min(max({sf("abs")}(<i>p</i> − <i>p</i>&#770;)))</>,
    capX: 165, capY: 834, capTag: "(e)", capText: <> minimum of the maximum absolute error for pressure <i>p</i></>,
  },
  {
    cols: RIGHT_COLS, rows: [576, 649, 723], grids: [F_WP_WU, F_BU_WU, F_BU_WP, F_BP_WU, F_BP_WP, F_BP_BU],
    levels: F_LEVELS, colors: F_COLORS, barLevels: F_BAR_LEVELS, barColors: F_BAR_COLORS, barTicks: F_BAR_TICKS, digits: 2,
    barX: 632, barY: 590, barH: 186, crosses: false, yLabelX: 363, xLabelY: 810,
    cbX: 672, cbY: 683, cbLabel: <>max(max({sf("abs")}(<i>p</i> − <i>p</i>&#770;)))</>,
    capX: 516, capY: 834, capTag: "(f)", capText: <> maximum of the maximum absolute error for pressure <i>p</i></>,
  },
];

const SLOTS = [
  { r: 0, c: 0 },
  { r: 1, c: 0 },
  { r: 1, c: 1 },
  { r: 2, c: 0 },
  { r: 2, c: 1 },
  { r: 2, c: 2 },
];
const STRONG_SETS = [STRONG_WP_WU, STRONG_BU_WU, STRONG_BU_WP, STRONG_BP_WU, STRONG_BP_WP, STRONG_BP_BU];
const WEAK_SETS = [WEAK_WP_WU, WEAK_BU_WU, WEAK_BU_WP, WEAK_BP_WU, WEAK_BP_WP, WEAK_BP_BU];
const X_NAMES = [sym("w", "u"), sym("w", "p"), sym("b", "u")];
const Y_NAMES = [sym("w", "p"), sym("b", "u"), sym("b", "p")];

export default function App() {
  return (
    <div style={{ position: "absolute", left: 0, top: 0, width: 685, height: 840, overflow: "hidden", background: "#fff" }}>
      {FIGS.map((f, fi) => (
        <React.Fragment key={fi}>
          {SLOTS.map((s, i) => (
            <Panel
              key={i}
              left={f.cols[s.c]}
              top={f.rows[s.r]}
              grid={f.grids[i]}
              strong={f.crosses ? STRONG_SETS[i] : []}
              weak={f.crosses ? WEAK_SETS[i] : []}
              levels={f.levels}
              colors={f.colors}
              xLabels={s.r === 2}
              yLabels={s.c === 0}
            />
          ))}
          <ColorBar left={f.barX} top={f.barY} height={f.barH} levels={f.barLevels} colors={f.barColors} ticks={f.barTicks} digits={f.digits} />
          {f.cols.map((cx, i) => (
            <Txt key={"x" + i} x={cx + PW / 2} y={f.xLabelY} size={10}>
              {X_NAMES[i]}
            </Txt>
          ))}
          {f.rows.map((ry, i) => (
            <Txt key={"y" + i} x={f.yLabelX} y={ry + PH / 2} rot size={10}>
              {Y_NAMES[i]}
            </Txt>
          ))}
          <Txt x={f.cbX} y={f.cbY} rot size={9.5}>
            {f.cbLabel}
          </Txt>
          <Txt x={f.capX} y={f.capY} size={12.8}>
            <b style={{ fontFamily: SANS, fontSize: 12 }}>{f.capTag}</b>
            {f.capText}
          </Txt>
        </React.Fragment>
      ))}
    </div>
  );
}
